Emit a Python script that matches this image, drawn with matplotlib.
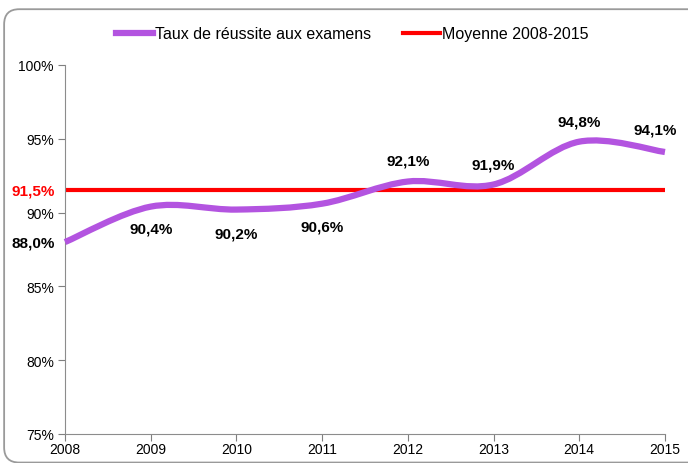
import matplotlib
matplotlib.use("Agg")
import matplotlib.pyplot as plt
from matplotlib.path import Path
from matplotlib.patches import PathPatch, FancyBboxPatch
from matplotlib.lines import Line2D

plt.rcParams['font.family'] = ['Liberation Sans', 'DejaVu Sans']

years = [2008, 2009, 2010, 2011, 2012, 2013, 2014, 2015]
rates = [88.0, 90.4, 90.2, 90.6, 92.1, 91.9, 94.8, 94.1]
labels = ["88,0%", "90,4%", "90,2%", "90,6%", "92,1%", "91,9%", "94,8%", "94,1%"]
mean_value = 91.5
mean_label = "91,5%"
yticks = [75, 80, 85, 90, 95, 100]
ytick_labels = ["75%", "80%", "85%", "90%", "95%", "100%"]
series_name = "Taux de réussite aux examens"
mean_name = "Moyenne 2008-2015"

purple = "#B354E0"
red = "#FF0000"

fig = plt.figure(figsize=(6.88, 4.64), dpi=100)
# rounded frame around the chart
frame = FancyBboxPatch((0.006, 0.001), 1.2, 0.977,
                       boxstyle="round,pad=0,rounding_size=0.022",
                       mutation_aspect=688 / 464,
                       transform=fig.transFigure, facecolor="none", edgecolor="#9a9a9a",
                       linewidth=1.3, zorder=5)
fig.patches.append(frame)

ax = fig.add_axes([0.0945, 0.0625, 0.872, 0.7955])
ax.patch.set_alpha(0)
ax.set_xlim(years[0], years[-1])
ax.set_ylim(75, 100)

# smooth (Catmull-Rom style) curve through the data points
verts = [(years[0], rates[0])]
codes = [Path.MOVETO]
n = len(years)
for i in range(n - 1):
    x0, y0 = years[i], rates[i]
    x1, y1 = years[i + 1], rates[i + 1]
    xp, yp = (years[i - 1], rates[i - 1]) if i > 0 else (x0, y0)
    xn, yn = (years[i + 2], rates[i + 2]) if i + 2 < n else (x1, y1)
    c1 = (x0 + (x1 - xp) / 6.0, y0 + (y1 - yp) / 6.0)
    c2 = (x1 - (xn - x0) / 6.0, y1 - (yn - y0) / 6.0)
    verts += [c1, c2, (x1, y1)]
    codes += [Path.CURVE4] * 3
patch = PathPatch(Path(verts, codes), facecolor="none", edgecolor=purple, lw=4.5,
                  capstyle="butt", zorder=3, clip_on=False)
ax.add_patch(patch)

ax.plot([years[0], years[-1]], [mean_value, mean_value], color=red, lw=3, zorder=2,
        solid_capstyle="butt")

# data labels
fs = 10
lfs = 11
offsets = [None, (0, -1.51), (0, -1.65), (0, -1.57), (0, 1.40), (0, 1.32), (0, 1.34), (-0.117, 1.55)]
for x, y, lab, off in zip(years, rates, labels, offsets):
    if off is None:
        ax.annotate(lab, (x, y), xytext=(-7, 0), textcoords="offset points", ha="right",
                    va="center", fontsize=lfs, fontweight="bold", annotation_clip=False)
    else:
        ax.text(x + off[0], y + off[1], lab, ha="center", va="center", fontsize=lfs,
                fontweight="bold")

ax.set_yticks(yticks)
ax.set_yticklabels(ytick_labels)
ax.set_xticks(years)
ax.set_xticklabels([str(y) for y in years])
ax.tick_params(axis="both", labelsize=fs, colors="#7f7f7f", labelcolor="black",
               length=5, width=0.8)
ax.tick_params(axis="x", pad=1)
ax.tick_params(axis="y", pad=3)
for s in ["top", "right"]:
    ax.spines[s].set_visible(False)
for s in ["left", "bottom"]:
    ax.spines[s].set_color("#8c8c8c")
    ax.spines[s].set_linewidth(0.8)

ax.annotate(mean_label, (years[0], mean_value), xytext=(-7, 0), textcoords="offset points",
            ha="right", va="center", fontsize=lfs, fontweight="bold", color=red,
            annotation_clip=False)

handles = [Line2D([], [], color=purple, lw=4.5), Line2D([], [], color=red, lw=3)]
fig.legend(handles, [series_name, mean_name], loc="center", bbox_to_anchor=(0.512, 0.9246),
           ncol=2, frameon=False, fontsize=11.5, handlelength=2.3, handletextpad=0.1,
           columnspacing=2.05)

fig.savefig("out.png", dpi=100)
